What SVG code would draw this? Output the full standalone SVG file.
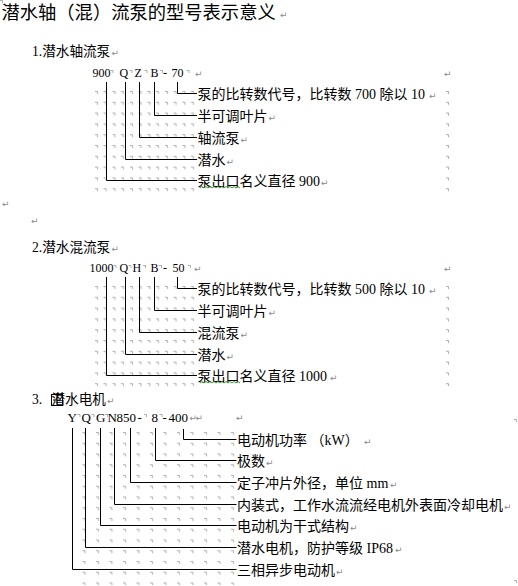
<svg xmlns="http://www.w3.org/2000/svg" width="518" height="586" viewBox="0 0 518 586">
<style>
.t{font-family:"Liberation Serif","Noto Sans CJK SC",serif;fill:#000}
.lbl{font-size:14px}
.hd{font-size:13.6px}
.cd{font-size:12px}
.cd3{font-size:13px}
.mk{font-family:"DejaVu Sans",sans-serif;font-size:9px;fill:#8a8a8a}
.ln{fill:none;stroke:#000;stroke-width:1}
.wv{fill:none;stroke:#3c9a3c;stroke-width:1}
</style>
<defs>
<symbol id="cm" overflow="visible"><path d="M0,0.5H2.5V3" fill="none" stroke="#999" stroke-width="0.8"/></symbol>
<pattern id="g12" patternUnits="userSpaceOnUse" x="94" y="90" width="17.5" height="10.8"><use href="#cm" x="1" y="1"/><use href="#cm" x="9.5" y="1"/></pattern>
<pattern id="g2" patternUnits="userSpaceOnUse" x="94" y="285" width="17.5" height="10.8"><use href="#cm" x="1" y="1"/><use href="#cm" x="9.5" y="1"/></pattern>
<pattern id="g3" patternUnits="userSpaceOnUse" x="68" y="431" width="13.5" height="10.75"><use href="#cm" x="1" y="1"/></pattern>
<pattern id="gc1" patternUnits="userSpaceOnUse" x="445" y="90" width="10" height="10.8"><use href="#cm" x="1" y="1"/></pattern>
<pattern id="gc2" patternUnits="userSpaceOnUse" x="445" y="285" width="10" height="10.8"><use href="#cm" x="1" y="1"/></pattern>
</defs>
<rect width="518" height="586" fill="#fff"/>

<!-- table end-of-cell marks -->
<g id="marks">
<rect x="94" y="89" width="102" height="103" fill="url(#g12)"/>
<rect x="94" y="284" width="102" height="103" fill="url(#g2)"/>
<rect x="75" y="430" width="161" height="155" fill="url(#g3)"/>
<rect x="445" y="89" width="6" height="103" fill="url(#gc1)"/>
<rect x="445" y="284" width="6" height="103" fill="url(#gc2)"/>
<use href="#cm" x="0" y="0"/>
<use href="#cm" x="514" y="580"/>
<use href="#cm" x="514" y="419"/>
<use href="#cm" x="110.5" y="70"/><use href="#cm" x="129.5" y="70"/><use href="#cm" x="144.5" y="70"/><use href="#cm" x="160" y="70"/><use href="#cm" x="186.5" y="70"/>
<use href="#cm" x="113.5" y="265"/><use href="#cm" x="128.5" y="265"/><use href="#cm" x="143" y="265"/><use href="#cm" x="159" y="265"/><use href="#cm" x="188" y="265"/>
<use href="#cm" x="77.5" y="414"/><use href="#cm" x="91.5" y="414"/><use href="#cm" x="105" y="414"/><use href="#cm" x="144" y="414"/><use href="#cm" x="159.5" y="414"/>
</g>

<g id="title"><text class="t" x="1.5" y="18.5" font-size="18.3">潜水轴（混）流泵的型号表示意义</text></g>

<!-- Block 1 -->
<g id="h1"><text class="t hd" x="32" y="56">1.潜水轴流泵</text></g>
<g id="code1" class="t cd">
<text x="92.5" y="77">900</text><text x="119.5" y="77">Q</text><text x="134.5" y="77">Z</text><text x="150.5" y="77">B</text><text x="163" y="77">-</text><text x="171.5" y="77">70</text>
</g>
<g id="b1l1"><text class="t lbl" x="197.5" y="98.5">泵的比转数代号，比转数 700 除以 10</text></g>
<g id="b1l2"><text class="t lbl" x="197.5" y="120.5">半可调叶片</text></g>
<g id="b1l3"><text class="t lbl" x="197.5" y="142.5">轴流泵</text></g>
<g id="b1l4"><text class="t lbl" x="197.5" y="164.5">潜水</text></g>
<g id="b1l5"><text class="t lbl" x="197.5" y="185.5">泵出口名义直径 900</text></g>

<!-- Block 2 -->
<g id="h2"><text class="t hd" x="32" y="251.5">2.潜水混流泵</text></g>
<g id="code2" class="t cd">
<text x="89.5" y="272">1000</text><text x="119.5" y="272">Q</text><text x="132.5" y="272">H</text><text x="150.5" y="272">B</text><text x="163" y="272">-</text><text x="172.5" y="272">50</text>
</g>
<g id="b2l1"><text class="t lbl" x="197.5" y="293.5">泵的比转数代号，比转数 500 除以 10</text></g>
<g id="b2l2"><text class="t lbl" x="197.5" y="315.5">半可调叶片</text></g>
<g id="b2l3"><text class="t lbl" x="197.5" y="337.5">混流泵</text></g>
<g id="b2l4"><text class="t lbl" x="197.5" y="359.5">潜水</text></g>
<g id="b2l5"><text class="t lbl" x="197.5" y="380.5">泵出口名义直径 1000</text></g>

<!-- Block 3 -->
<g id="h3"><text class="t hd" x="32" y="403.5">3.</text><text class="t hd" x="51.5" y="403.5">潜水电机</text>
<rect x="51.5" y="394.5" width="11" height="11" fill="none" stroke="#000" stroke-width="1"/>
<path d="M57,396.5V403.5M53.5,400H60.5M55.8,397.7L57,396.5L58.2,397.7M55.8,402.3L57,403.5L58.2,402.3M54.7,398.8L53.5,400L54.7,401.2M59.3,398.8L60.5,400L59.3,401.2" fill="none" stroke="#000" stroke-width="0.8"/>
</g>
<g id="code3" class="t cd3">
<text x="67.5" y="421.5">Y</text><text x="81.5" y="421.5">Q</text><text x="96" y="421.5">G</text><text x="107.5" y="421.5">N</text><text x="116.5" y="421.5">850</text><text x="137.5" y="421.5">-</text><text x="151.5" y="421.5">8</text><text x="162.5" y="421.5">-</text><text x="168.5" y="421.5">400</text>
</g>
<g id="b3l1"><text class="t lbl" x="237" y="444.5">电动机功率 （kW）</text></g>
<g id="b3l2"><text class="t lbl" x="237" y="465.5">极数</text></g>
<g id="b3l3"><text class="t lbl" x="237" y="487.5">定子冲片外径，单位 mm</text></g>
<g id="b3l4"><text class="t lbl" x="237" y="509.5">内装式，工作水流流经电机外表面冷却电机</text></g>
<g id="b3l5"><text class="t lbl" x="237" y="530.5">电动机为干式结构</text></g>
<g id="b3l6"><text class="t lbl" x="237" y="552.5">潜水电机，防护等级 IP68</text></g>
<g id="b3l7"><text class="t lbl" x="237" y="574.5">三相异步电动机</text></g>

<!-- paragraph marks -->
<g id="pmarks" class="mk">
<text x="280" y="18">↵</text>
<text x="111.5" y="56">↵</text>
<text x="195" y="77">↵</text><text x="444" y="77">↵</text>
<text x="429" y="98.5">↵</text><text x="268.5" y="120.5">↵</text><text x="240.5" y="142.5">↵</text><text x="226.5" y="164.5">↵</text><text x="321" y="185.5">↵</text>
<text x="2" y="207">↵</text><text x="31" y="224">↵</text>
<text x="111.5" y="251.5">↵</text>
<text x="194" y="272">↵</text><text x="444" y="272">↵</text>
<text x="429" y="293.5">↵</text><text x="268.5" y="315.5">↵</text><text x="240.5" y="337.5">↵</text><text x="226.5" y="359.5">↵</text><text x="330" y="380.5">↵</text>
<text x="107" y="403.5">↵</text>
<text x="189.5" y="421">↵</text><text x="195.5" y="421">↵</text><text x="236" y="421">↵</text>
<text x="364" y="444.5">↵</text><text x="266" y="465.5">↵</text><text x="390" y="487.5">↵</text><text x="504" y="509.5">↵</text><text x="350" y="530.5">↵</text><text x="395" y="552.5">↵</text><text x="336" y="574.5">↵</text>
</g>

<!-- grammar underline -->
<g id="squiggles">
<path class="wv" d="M200,188L202,186.5L204,188L206,186.5L208,188L210,186.5L212,188L214,186.5L216,188L218,186.5L220,188L222,186.5L224,188L226,186.5L228,188L230,186.5L232,188L234,186.5L236,188L238,186.5L240,188"/>
<path class="wv" d="M200,383L202,381.5L204,383L206,381.5L208,383L210,381.5L212,383L214,381.5L216,383L218,381.5L220,383L222,381.5L224,383L226,381.5L228,383L230,381.5L232,383L234,381.5L236,383L238,381.5L240,383"/>
</g>

<g id="connectors" class="ln">
<path d="M177.5,82V93.5H197"/>
<path d="M154.5,82V115.5H197"/>
<path d="M139.5,82V137.5H197"/>
<path d="M125.5,82V159.5H197"/>
<path d="M106.5,82V180.5H197"/>
<path d="M177.5,277V288.5H197"/>
<path d="M154.5,277V310.5H197"/>
<path d="M139.5,277V332.5H197"/>
<path d="M125.5,277V354.5H197"/>
<path d="M106.5,277V375.5H197"/>
<path d="M183.5,429V439.5H236.5"/>
<path d="M155.5,428V460.5H236.5"/>
<path d="M130.5,428V482.5H236.5"/>
<path d="M114.5,428V504.5H236.5"/>
<path d="M100.5,428V525.5H236.5"/>
<path d="M85.5,428V547.5H236.5"/>
<path d="M72.5,428V569.5H236.5"/>
</g>
</svg>
